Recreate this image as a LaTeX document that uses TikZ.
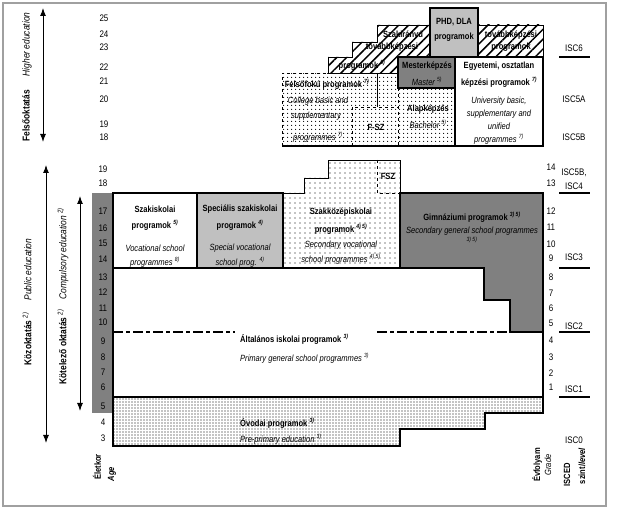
\documentclass[tikz,border=0pt]{standalone}
\usepackage{fontspec}
\setmainfont[FakeStretch=0.84]{Liberation Sans}
\usetikzlibrary{patterns.meta,arrows.meta}
\definecolor{dgray}{HTML}{808080}
\definecolor{lgray}{HTML}{C0C0C0}
\definecolor{framegray}{HTML}{A0A0A0}
\newcommand\supn[1]{\textsuperscript{\itshape #1}}
\begin{document}
\begin{tikzpicture}[x=1pt,y=-1pt,
  bline/.style={line width=1.5pt},
  tline/.style={line width=0.6pt},
  tb/.style={font=\bfseries\fontsize{9}{10}\selectfont,inner sep=0pt},
  ti/.style={font=\itshape\fontsize{9}{10}\selectfont,inner sep=0pt},
  num/.style={font=\fontsize{9.5}{10}\selectfont,inner sep=0pt},
  side/.style={font=\fontsize{10}{11}\selectfont,inner sep=0pt,rotate=90},
  hatch/.style={pattern={Lines[angle=45,distance=7pt,line width=1.5pt]}},
  dotsA/.style={pattern={Dots[distance=4pt,radius=0.65pt]}},
  dotsB/.style={pattern={Dots[distance=5pt,radius=0.7pt]}},
  dotsC/.style={pattern={Dots[distance=3pt,radius=0.6pt]}},
  arr/.style={{Latex[length=8pt,width=6pt]}-{Latex[length=8pt,width=6pt]},line width=1pt},
  iscline/.style={line width=2.5pt}]
\useasboundingbox (0,0) rectangle (622,513);
\fill[white] (0,0) rectangle (622,513);
\draw[framegray,line width=1.5pt] (3,3) rectangle (606,506);

% ---------- higher education ----------
\fill[dotsA] (282,73) -- (398,73) -- (398,88) -- (455,88) -- (455,146) -- (282,146) -- cycle;
\draw[tline,dashed] (282,146) -- (282,73) -- (377,73);
\draw[tline] (377,73) -- (377,107);
\draw[tline,dashed] (352,146) -- (352,107) -- (398,107);
\draw[tline,dashed] (398,88) -- (398,146);
\filldraw[hatch,draw=black,tline] (328,73) -- (328,57) -- (352,57) -- (352,42) -- (377,42) -- (377,25) -- (430,25) -- (430,57) -- (398,57) -- (398,73) -- cycle;
\filldraw[hatch,draw=black,tline] (478,25) rectangle (543,57);
\filldraw[fill=lgray,draw=black,bline] (430,8) rectangle (478,57);
\filldraw[fill=dgray,draw=black,bline] (398,57) rectangle (455,88);
\filldraw[fill=white,draw=black,bline] (455,57) rectangle (543,146);
\draw[bline] (282,146) -- (543,146);

\node[tb] (phd1) at (454,22) {PHD, DLA};
\node[tb] (phd2) at (454,37) {programok};
\node[tb] (szt1) at (403,35) {Szakirányú};
\node[tb] (szt2) at (392,47) {továbbképzési};
\node[tb] (szt3) at (362,65) {programok \supn{5)}};
\node[tb] (szr1) at (511,35) {továbbképzési};
\node[tb] (szr2) at (511,47) {programok};
\node[tb] (mes1) at (427,66) {Mesterképzés};
\node[ti] (mes2) at (427,81) {Master \supn{5)}};
\node[tb] (egy1) at (499,66) {Egyetemi, osztatlan};
\node[tb] (egy2) at (499,82) {képzési programok \supn{7)}};
\node[ti] (egy3) at (499,101) {University basic,};
\node[ti] (egy4) at (499,114) {supplementary and};
\node[ti] (egy5) at (499,126) {unified};
\node[ti] (egy6) at (499,139) {programmes \supn{7)}};
\node[tb] (fel1) at (327,84) {Felsőfokú programok \supn{7)}};
\node[ti] (fel2) at (318,101) {College basic and};
\node[ti] (fel3) at (316,116) {supplementary};
\node[ti] (fel4) at (318,137) {programmes \supn{7)}};
\node[tb] (fsz1) at (376,127) {F-SZ};
\node[tb] (ala1) at (428,109) {Alapképzés};
\node[ti] (ala2) at (428,124) {Bachelor \supn{5)}};

% ---------- public education ----------
\fill[dgray] (92,193) rectangle (113,413);
\fill[dotsB] (283,193) -- (304,193) -- (304,178) -- (328,178) -- (328,160) -- (400,160) -- (400,268) -- (283,268) -- cycle;
\draw[tline] (283,193) -- (304,193) -- (304,178) -- (328,178) -- (328,160) -- (400,160) -- (400,193);
\draw[tline,dashed] (377,160) -- (377,193) -- (400,193);
\filldraw[fill=white,draw=black,bline] (113,193) rectangle (197,268);
\filldraw[fill=lgray,draw=black,bline] (197,193) rectangle (283,268);
\draw[bline] (283,268) -- (400,268);
\filldraw[fill=dgray,draw=black,bline] (400,193) -- (543,193) -- (543,332) -- (510,332) -- (510,300) -- (484,300) -- (484,268) -- (400,268) -- cycle;
\filldraw[fill=white,draw=black,bline] (113,268) -- (484,268) -- (484,300) -- (510,300) -- (510,332) -- (543,332) -- (543,397) -- (113,397) -- cycle;
\filldraw[dotsC,draw=black,bline] (113,397) -- (543,397) -- (543,413) -- (485,413) -- (485,429) -- (400,429) -- (400,446) -- (113,446) -- cycle;
\draw[line width=1.3pt,dash pattern=on 10pt off 3pt on 4pt off 3pt] (113,332) -- (235,332);
\draw[line width=1.3pt,dash pattern=on 10pt off 3pt on 4pt off 3pt] (377,332) -- (543,332);

\node[tb] (szi1) at (155,209) {Szakiskolai};
\node[tb] (szi2) at (155,225) {programok \supn{5)}};
\node[ti] (szi3) at (155,248) {Vocational school};
\node[ti] (szi4) at (155,262) {programmes \supn{8)}};
\node[tb] (spe1) at (240,209) {Speciális szakiskolai};
\node[tb] (spe2) at (240,225) {programok \supn{4)}};
\node[ti] (spe3) at (240,248) {Special vocational};
\node[ti] (spe4) at (240,262) {school prog. \supn{4)}};
\node[tb] (szk1) at (341,212) {Szakközépiskolai};
\node[tb] (szk2) at (341,229) {programok \supn{4) 5)}};
\node[ti] (szk3) at (341,245) {Secondary vocational};
\node[ti] (szk4) at (341,259) {school programmes \supn{4) 5)}};
\node[tb] (fsz2) at (388,176) {FSZ};
\node[tb] (gim1) at (472,217) {Gimnáziumi programok \supn{3) 5)}};
\node[ti] (gim2) at (472,231) {Secondary general school programmes};
\node[ti] (gim3) at (472,241) {\supn{3) 5)}};
\node[tb,anchor=west] (alt1) at (240,339) {Általános iskolai programok \supn{3)}};
\node[ti,anchor=west] (alt2) at (240,358) {Primary general school programmes \supn{3)}};
\node[tb,anchor=west] (ovo1) at (240,423) {Óvodai programok \supn{3)}};
\node[ti,anchor=west] (ovo2) at (240,439) {Pre-primary education \supn{3)}};

% ---------- ages ----------
\foreach \a/\y in {25/18,24/34,23/47,22/67,21/81,20/99,19/124,18/137}
  \node[num] (ageH\a) at (104,\y) {\a};
\foreach \a/\y in {19/169,18/183,17/211,16/228,15/243,14/259,13/277,12/292,11/308,10/322,9/341,8/357,7/372,6/387,5/406,4/422,3/438}
  \node[num] (ageP\a) at (103,\y) {\a};
% ---------- grades ----------
\foreach \g/\y in {14/167,13/183,12/211,11/227,10/244,9/258,8/277,7/293,6/308,5/323,4/340,3/357,2/373,1/387}
  \node[num] (gr\g) at (551,\y) {\g};
% ---------- ISCED ----------
\node[num] (isc6) at (574,48) {ISC6};
\node[num] (isc5a) at (574,99) {ISC5A};
\node[num] (isc5b) at (574,137) {ISC5B};
\node[num] (isc5b4) at (574,173) {ISC5B,};
\node[num] (isc4) at (574,186) {ISC4};
\node[num] (isc3) at (574,257) {ISC3};
\node[num] (isc2) at (574,326) {ISC2};
\node[num] (isc1) at (574,389) {ISC1};
\node[num] (isc0) at (574,440) {ISC0};
\foreach \y in {57,193,268,332,397}
  \draw[iscline] (559,\y) -- (590,\y);

% ---------- side arrows ----------
\coordinate (heT) at (43,8);  \coordinate (heB) at (43,142);
\coordinate (peT) at (46,165); \coordinate (peB) at (46,443);
\coordinate (ceT) at (80,196); \coordinate (ceB) at (80,411);
\draw[arr] (heT) -- (heB);
\draw[arr] (peT) -- (peB);
\draw[arr] (ceT) -- (ceB);
\node[side] (lhe) at (27,77) {\textbf{Felsőoktatás}\hspace{1.4em}\textit{Higher education}};
\node[side] (lpe) at (27,302) {\textbf{Közoktatás} \supn{2)}\hspace{1.2em}\textit{Public education}};
\node[side] (lce) at (63,296) {\textbf{Kötelező oktatás} \supn{2)}\hspace{1em}\textit{Compulsory education} \supn{2)}};

% ---------- bottom labels ----------
\node[tb,rotate=90] (bage1) at (97,467) {Életkor};
\node[font=\bfseries\itshape\fontsize{9}{10}\selectfont,inner sep=0pt,rotate=90] (bage2) at (112,474) {Age};
\node[tb,rotate=90] (bgr1) at (537,465) {Évfolyam};
\node[ti,rotate=90] (bgr2) at (548,465) {Grade};
\node[tb,rotate=90] (bis1) at (567,475) {ISCED};
\node[tb,rotate=90] (bis2) at (582,466) {szint/\textit{level}};
\end{tikzpicture}
\end{document}
